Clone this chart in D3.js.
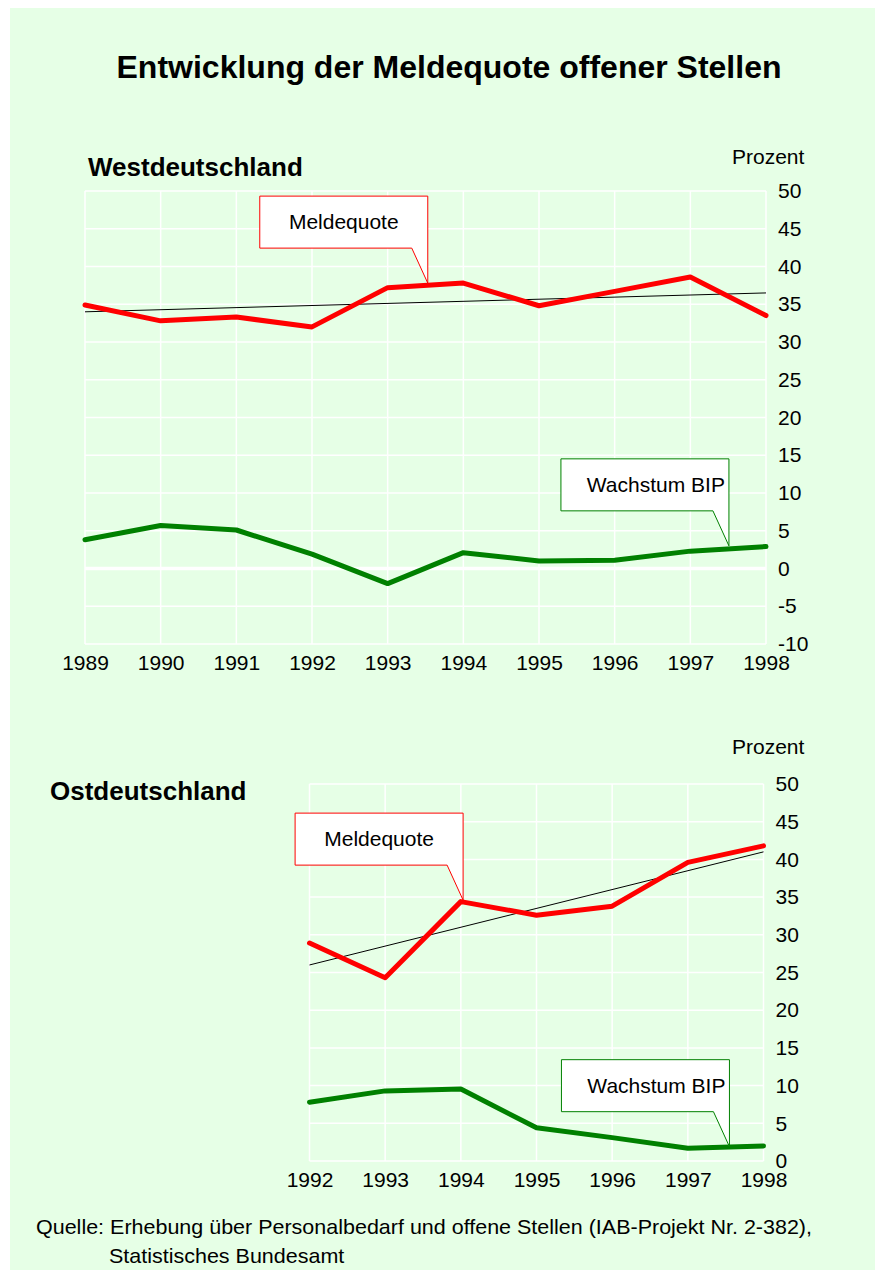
<!DOCTYPE html>
<html>
<head>
<meta charset="utf-8">
<script src="https://cdn.jsdelivr.net/npm/d3@7"></script>
<style>
  html, body { margin: 0; padding: 0; background: #fff; }
  svg { display: block; font-family: "Liberation Sans", Arial, sans-serif; }
</style>
</head>
<body>
<div id="chart"></div>
<script>
// values
const westYears = [1989, 1990, 1991, 1992, 1993, 1994, 1995, 1996, 1997, 1998];
const westMeldequote = [34.9, 32.8, 33.3, 32.0, 37.2, 37.8, 34.8, 36.7, 38.6, 33.5];
const westBip = [3.8, 5.7, 5.1, 1.9, -2.0, 2.1, 1.0, 1.1, 2.3, 2.9];
const westTrend = [34.0, 36.5]; // trend line at first / last year
const westTicks = [-10, -5, 0, 5, 10, 15, 20, 25, 30, 35, 40, 45, 50];

const ostYears = [1992, 1993, 1994, 1995, 1996, 1997, 1998];
const ostMeldequote = [28.9, 24.3, 34.4, 32.6, 33.8, 39.6, 41.8];
const ostBip = [7.8, 9.3, 9.55, 4.4, 3.1, 1.7, 2.0];
const ostTrend = [26.0, 41.0];
const ostTicks = [0, 5, 10, 15, 20, 25, 30, 35, 40, 45, 50];

const W = 875, H = 1270;
const RED = "#ff0000", GREEN = "#008000";

const svg = d3.select("#chart").append("svg")
  .attr("width", W).attr("height", H);

svg.append("rect")
  .attr("x", 10).attr("y", 8).attr("width", W - 10).attr("height", H - 8)
  .attr("fill", "#e6ffe6");

svg.append("text")
  .attr("x", 449).attr("y", 78)
  .attr("text-anchor", "middle")
  .style("font-size", "32px").style("font-weight", "bold")
  .text("Entwicklung der Meldequote offener Stellen");

function callout(g, tx, ty, label, color, anchor) {
  const bw = 168, bh = 52, off = 16;
  const bottom = ty - 35, top = bottom - bh, left = tx - bw;
  g.append("path")
    .attr("d", `M${left},${top}H${tx}V${ty}L${tx - off},${bottom}H${left}Z`)
    .attr("fill", "#fff")
    .attr("stroke", color)
    .attr("stroke-width", 1);
  g.append("text")
    .attr("x", anchor === "end" ? tx - 4 : left + bw / 2)
    .attr("y", top + 33)
    .attr("text-anchor", anchor)
    .style("font-size", "21px")
    .text(label);
}

function drawPanel(o) {
  const g = svg.append("g");
  const x = d3.scaleLinear().domain(d3.extent(o.years)).range(o.xRange);
  const y = d3.scaleLinear().domain(d3.extent(o.ticks)).range(o.yRange);
  const [x0, x1] = o.xRange, [y0, y1] = o.yRange;

  // grid
  const grid = g.append("g").attr("stroke", "#fff");
  grid.selectAll("line.h").data(o.ticks).join("line")
    .attr("x1", x0).attr("x2", x1)
    .attr("y1", d => y(d)).attr("y2", d => y(d))
    .attr("stroke-width", d => (d === 0 && o.ticks[0] < 0) ? 3.5 : 1.5);
  grid.selectAll("line.v").data(o.years).join("line")
    .attr("x1", d => x(d)).attr("x2", d => x(d))
    .attr("y1", y0).attr("y2", y1)
    .attr("stroke-width", 1.5);

  // axes (plain hyphen for negatives, like the original)
  g.append("g")
    .attr("transform", `translate(${x1 + 12},0)`)
    .call(d3.axisRight(y).tickValues(o.ticks).tickFormat(d => String(d)).tickSize(0).tickPadding(0))
    .call(a => a.select(".domain").remove())
    .call(a => a.selectAll("text").attr("fill", "#000").style("font-size", "21px")
      .style("font-family", "inherit"));
  g.append("g")
    .attr("transform", `translate(0,${y0})`)
    .call(d3.axisBottom(x).tickValues(o.years).tickFormat(d => String(d)).tickSize(0).tickPadding(11))
    .call(a => a.select(".domain").remove())
    .call(a => a.selectAll("text").attr("fill", "#000").style("font-size", "21px")
      .style("font-family", "inherit"));

  g.append("text").attr("x", 732).attr("y", o.prozentY)
    .style("font-size", "21px").text("Prozent");
  g.append("text").attr("x", o.headX).attr("y", o.headY)
    .style("font-size", "26px").style("font-weight", "bold").text(o.head);

  // trend
  const ends = d3.extent(o.years);
  g.append("line")
    .attr("x1", x(ends[0])).attr("y1", y(o.trend[0]))
    .attr("x2", x(ends[1])).attr("y2", y(o.trend[1]))
    .attr("stroke", "#000").attr("stroke-width", 1);

  const line = d3.line().x((d, i) => x(o.years[i])).y(d => y(d));
  g.append("path").datum(o.bip).attr("d", line)
    .attr("fill", "none").attr("stroke", GREEN).attr("stroke-width", 5)
    .attr("stroke-linejoin", "round").attr("stroke-linecap", "round");
  g.append("path").datum(o.melde).attr("d", line)
    .attr("fill", "none").attr("stroke", RED).attr("stroke-width", 5)
    .attr("stroke-linejoin", "round").attr("stroke-linecap", "round");

  callout(g, x(o.meldeTip[0]), y(o.meldeTip[1]), "Meldequote", RED, "middle");
  callout(g, x(o.bipTip[0]), y(o.bipTip[1]), "Wachstum BIP", GREEN, "end");
}

drawPanel({
  years: westYears, melde: westMeldequote, bip: westBip, trend: westTrend, ticks: westTicks,
  xRange: [85, 766], yRange: [644, 191],
  head: "Westdeutschland", headX: 88, headY: 176, prozentY: 164,
  meldeTip: [1993.53, 37.8], bipTip: [1997.51, 3.0]
});

drawPanel({
  years: ostYears, melde: ostMeldequote, bip: ostBip, trend: ostTrend, ticks: ostTicks,
  xRange: [309.5, 763.5], yRange: [1161, 784],
  head: "Ostdeutschland", headX: 50, headY: 800, prozentY: 754,
  meldeTip: [1994.03, 34.6], bipTip: [1997.55, 1.9]
});

// source (narrow typeface in the original, so squeeze both lines by the same ratio)
const src1 = svg.append("text").attr("x", 36).attr("y", 1234)
  .style("font-size", "21px")
  .text("Quelle: Erhebung über Personalbedarf und offene Stellen (IAB-Projekt Nr. 2-382),");
const src2 = svg.append("text").attr("x", 109).attr("y", 1263)
  .style("font-size", "21px")
  .text("Statistisches Bundesamt");
const squeeze = 776 / src1.node().getComputedTextLength();
src1.attr("textLength", 776).attr("lengthAdjust", "spacingAndGlyphs");
src2.attr("textLength", src2.node().getComputedTextLength() * squeeze)
  .attr("lengthAdjust", "spacingAndGlyphs");
</script>
</body>
</html>
